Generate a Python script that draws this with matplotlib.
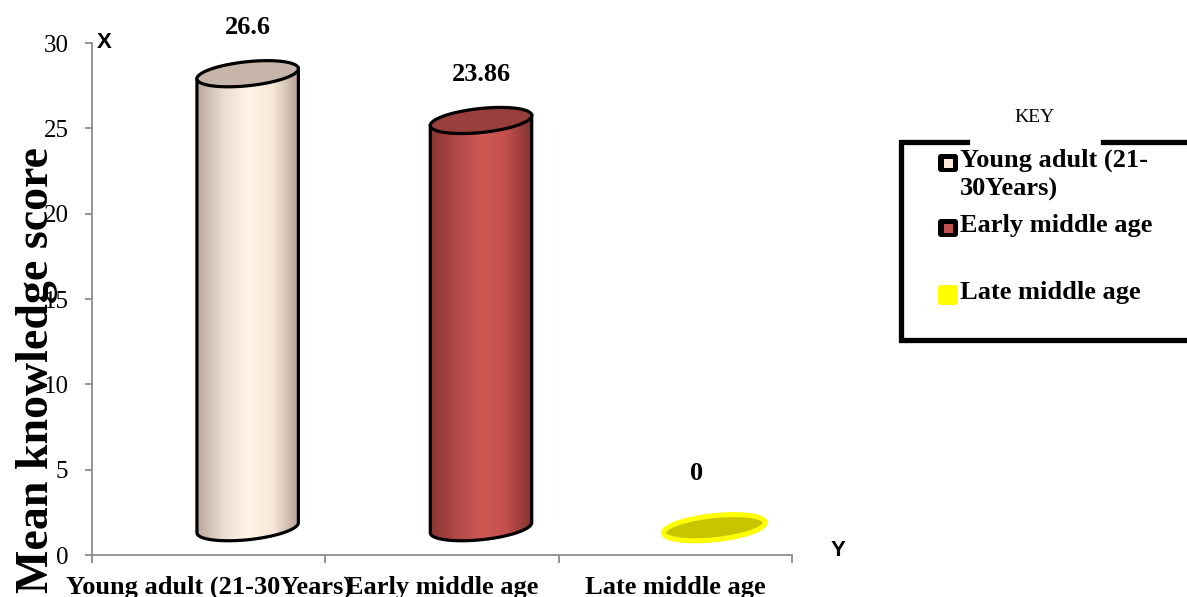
import numpy as np
import matplotlib
matplotlib.use('Agg')
import matplotlib.pyplot as plt
from matplotlib.patches import Polygon, FancyBboxPatch, Rectangle
from matplotlib.colors import LinearSegmentedColormap

plt.rcParams['font.family'] = ['Liberation Serif', 'DejaVu Serif']

# mean knowledge score by age group
categories = ['Young adult (21-30Years)', 'Early middle age', 'Late middle age']
legend_labels = ['Young adult (21-\n30Years)', 'Early middle age', 'Late middle age']
scores = [26.6, 23.86, 0]
value_labels = ['26.6', '23.86', '0']
y_ticks = [0, 5, 10, 15, 20, 25, 30]

# side shading of each cylinder (left -> right) and colour of its top
side_shades = [
    ['#bba79b', '#eadbcf', '#fff5e7', '#f7e7d7', '#b5a193'],
    ['#883533', '#b04846', '#cf5855', '#c24f4c', '#813230'],
    ['#c8c400', '#c8c400', '#c8c400', '#c8c400', '#c8c400'],
]
top_colors = ['#c7b5a9', '#983f3d', '#c8c400']
edge_colors = ['black', 'black', '#ffff00']
edge_widths = [2.3, 2.3, 3.6]
key_colors = ['#fde9d9', '#c0504d', '#ffff00']

W, H = 1187, 597
fig = plt.figure(figsize=(W / 100, H / 100), dpi=100)
ax = fig.add_axes([92 / W, 42 / H, 700 / W, 512 / H])
ax.set_xlim(-0.5, 2.5)
ax.set_ylim(0, 30)

# pixels per data unit, used to keep the cylinder ellipses round on screen
sx = 700 / 3.0
sy = 512 / 30.0
half_w, half_h, tilt = 51.0, 12.0, np.deg2rad(6)
depth_dx = 39.0 / sx     # 3-D depth pushes the cylinders right ...
floor = 1.6              # ... and up off the floor


def ellipse(cx, cy, t):
    px = half_w * np.cos(t) * np.cos(tilt) - half_h * np.sin(t) * np.sin(tilt)
    py = half_w * np.cos(t) * np.sin(tilt) + half_h * np.sin(t) * np.cos(tilt)
    return np.column_stack([cx + px / sx, cy + py / sy])


for i, val in enumerate(scores):
    cx = i + depth_dx
    y0 = floor
    y1 = floor + val
    if val > 0:
        lower = np.linspace(np.pi, 2 * np.pi, 60)
        bottom = ellipse(cx, y0, lower)
        top = ellipse(cx, y1, lower[::-1])
        body_pts = np.vstack([bottom, top])
        body = Polygon(body_pts, closed=True, facecolor='none', edgecolor='none')
        ax.add_patch(body)
        cmap = LinearSegmentedColormap.from_list('side%d' % i, side_shades[i])
        grad = np.linspace(0, 1, 256).reshape(1, -1)
        xmin, xmax = body_pts[:, 0].min(), body_pts[:, 0].max()
        ymin, ymax = body_pts[:, 1].min(), body_pts[:, 1].max()
        img = ax.imshow(grad, cmap=cmap, aspect='auto', origin='lower',
                        extent=[xmin, xmax, ymin, ymax], zorder=2)
        img.set_clip_path(body)
        outline = np.vstack([ellipse(cx, y1, np.array([np.pi])), bottom,
                             ellipse(cx, y1, np.array([0.0]))])
        ax.plot(outline[:, 0], outline[:, 1], color=edge_colors[i],
                lw=edge_widths[i], solid_joinstyle='round', zorder=3)
    cap = ellipse(cx, y1, np.linspace(0, 2 * np.pi, 120))
    ax.add_patch(Polygon(cap, closed=True, facecolor=top_colors[i],
                         edgecolor=edge_colors[i], lw=edge_widths[i], zorder=4))
    ax.annotate(value_labels[i], (cx, y1),
                xytext=(0, 33) if val > 0 else (-13, 39),
                textcoords='offset points', ha='center', va='center',
                fontsize=19, fontweight='bold')

ax.set_xlim(-0.5, 2.5)
ax.set_ylim(0, 30)

for side in ['top', 'right']:
    ax.spines[side].set_visible(False)
for side in ['left', 'bottom']:
    ax.spines[side].set_color('#8c8c8c')
    ax.spines[side].set_linewidth(1.3)

ax.set_yticks(y_ticks)
ax.tick_params(axis='y', length=5, width=1.3, color='#8c8c8c', pad=12, labelsize=18)
ax.set_xticks(range(len(categories)))
ax.set_xticklabels(categories, fontsize=19, fontweight='bold')
ax.set_xticks([-0.5, 0.5, 1.5, 2.5], minor=True)
ax.tick_params(axis='x', which='major', length=0, pad=15)
ax.tick_params(axis='x', which='minor', length=6, width=1.3, color='#8c8c8c')

fig.text(37 / W, 1 - 370 / H, 'Mean knowledge score', rotation=90,
         ha='center', va='center', fontsize=33, fontweight='bold')
fig.text(104 / W, 1 - 42 / H, 'X', ha='center', va='center', fontsize=16,
         fontweight='bold', family='Liberation Sans')
fig.text(838 / W, 1 - 551 / H, 'Y', ha='center', va='center', fontsize=16,
         fontweight='bold', family='Liberation Sans')

# key box drawn in pixel space on a transparent overlay
ov = fig.add_axes([0, 0, 1, 1], facecolor='none')
ov.set_xlim(0, W)
ov.set_ylim(H, 0)
ov.axis('off')
ov.plot([967, 901, 901, 1200], [142, 142, 340, 340], color='black', lw=3.8,
        solid_joinstyle='miter', clip_on=False)
ov.plot([1103, 1200], [142, 142], color='black', lw=3.8)
ov.text(1035, 118, 'KEY', ha='center', va='center', fontsize=14)

rows = [163, 228, 295]
for i, lab in enumerate(legend_labels):
    yc = rows[i]
    if edge_colors[i] == 'black':
        ov.add_patch(FancyBboxPatch((938, yc - 9), 20, 18,
                                    boxstyle='round,pad=0,rounding_size=3',
                                    facecolor='black', edgecolor='none'))
        ov.add_patch(Rectangle((943.5, yc - 4.5), 9, 9, facecolor=key_colors[i],
                               edgecolor='none'))
    else:
        ov.add_patch(FancyBboxPatch((938, yc - 10), 20, 20,
                                    boxstyle='round,pad=0,rounding_size=3',
                                    facecolor=key_colors[i], edgecolor='none'))
    ov.text(960, yc - 14, lab, ha='left', va='top', fontsize=19,
            fontweight='bold', linespacing=1.28)

fig.savefig('out.png', dpi=100)
